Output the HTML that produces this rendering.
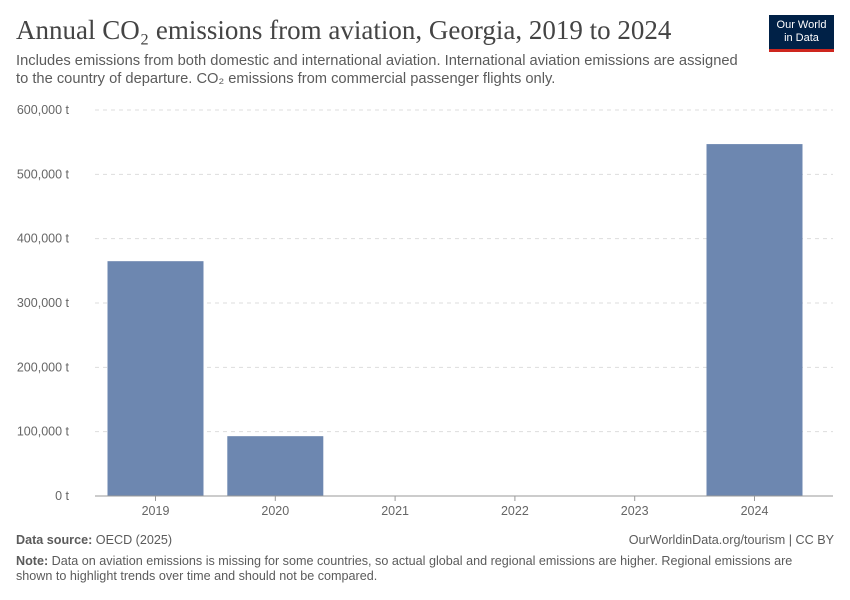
<!DOCTYPE html>
<html><head><meta charset="utf-8">
<style>
body{margin:0;width:850px;height:600px;background:#fff;font-family:"Liberation Sans",sans-serif;position:relative;overflow:hidden}
.t{position:absolute;white-space:nowrap}
</style></head><body>
<div class="t" style="left:16px;top:15px;font-family:'Liberation Serif',serif;font-size:27px;color:#444">Annual CO₂ emissions from aviation, Georgia, 2019 to 2024</div>
<div class="t" style="left:16px;top:52px;font-size:14.7px;line-height:18px;color:#5b5b5b">Includes emissions from both domestic and international aviation. International aviation emissions are assigned<br>to the country of departure. CO₂ emissions from commercial passenger flights only.</div>
<div style="position:absolute;left:769px;top:15px;width:65px;height:37px;background:#002147;border-bottom:3px solid #ce261e;color:#fff;font-size:11px;line-height:13px;text-align:center;padding-top:4px;box-sizing:border-box">Our World<br>in Data</div>
<svg id="c" width="850" height="600" style="position:absolute;left:0;top:0"></svg>
<div class="t" style="left:16px;top:533px;font-size:12.6px;color:#5b5b5b"><b>Data source:</b> OECD (2025)</div>
<div class="t" style="right:16px;top:533px;font-size:12.6px;color:#5b5b5b">OurWorldinData.org/tourism | CC BY</div>
<div class="t" style="left:16px;top:554px;font-size:12.6px;line-height:15px;color:#5b5b5b"><b>Note:</b> Data on aviation emissions is missing for some countries, so actual global and regional emissions are higher. Regional emissions are<br>shown to highlight trends over time and should not be compared.</div>
<script>
const categories=["2019","2020","2021","2022","2023","2024"];
const values=[365000,93000,null,null,null,547000];
const yTicks=[0,100000,200000,300000,400000,500000,600000];
const yTickLabels=["0 t","100,000 t","200,000 t","300,000 t","400,000 t","500,000 t","600,000 t"];
const svg=document.getElementById('c');const NS='http://www.w3.org/2000/svg';
const x0=95,x1=833,y0=496,y1=110;
const band=119.8, first=155.5;
const xs=i=>first+band*i;
const ys=v=>y0-(v/600000)*(y0-y1);
function mk(t,a){const e=document.createElementNS(NS,t);for(const k in a)e.setAttribute(k,a[k]);svg.appendChild(e);return e;}
yTicks.forEach((v,i)=>{
 if(v>0){const l=mk('line',{x1:x0,x2:x1,y1:ys(v),y2:ys(v),stroke:'#ddd','stroke-dasharray':'4,4'});
 
 }
 const t=mk('text',{x:69,y:ys(v)+4,'text-anchor':'end','font-size':12.5,fill:'#666','font-family':'Liberation Sans'});
 t.textContent=yTickLabels[i];
 
 
});
categories.forEach((c,i)=>{
 if(values[i]!=null){const r=mk('rect',{x:xs(i)-48,y:ys(values[i]),width:96,height:y0-ys(values[i]),fill:'#6d87b0'});
 
 }
 mk('line',{x1:xs(i),x2:xs(i),y1:y0,y2:y0+5,stroke:'#999'});
 const t=mk('text',{x:xs(i),y:y0+19,'text-anchor':'middle','font-size':12.5,fill:'#666','font-family':'Liberation Sans'});
 t.textContent=c;
 
 
});
const ax=mk('line',{x1:x0,x2:x1,y1:y0,y2:y0,stroke:'#999'});


</script>
</body></html>
